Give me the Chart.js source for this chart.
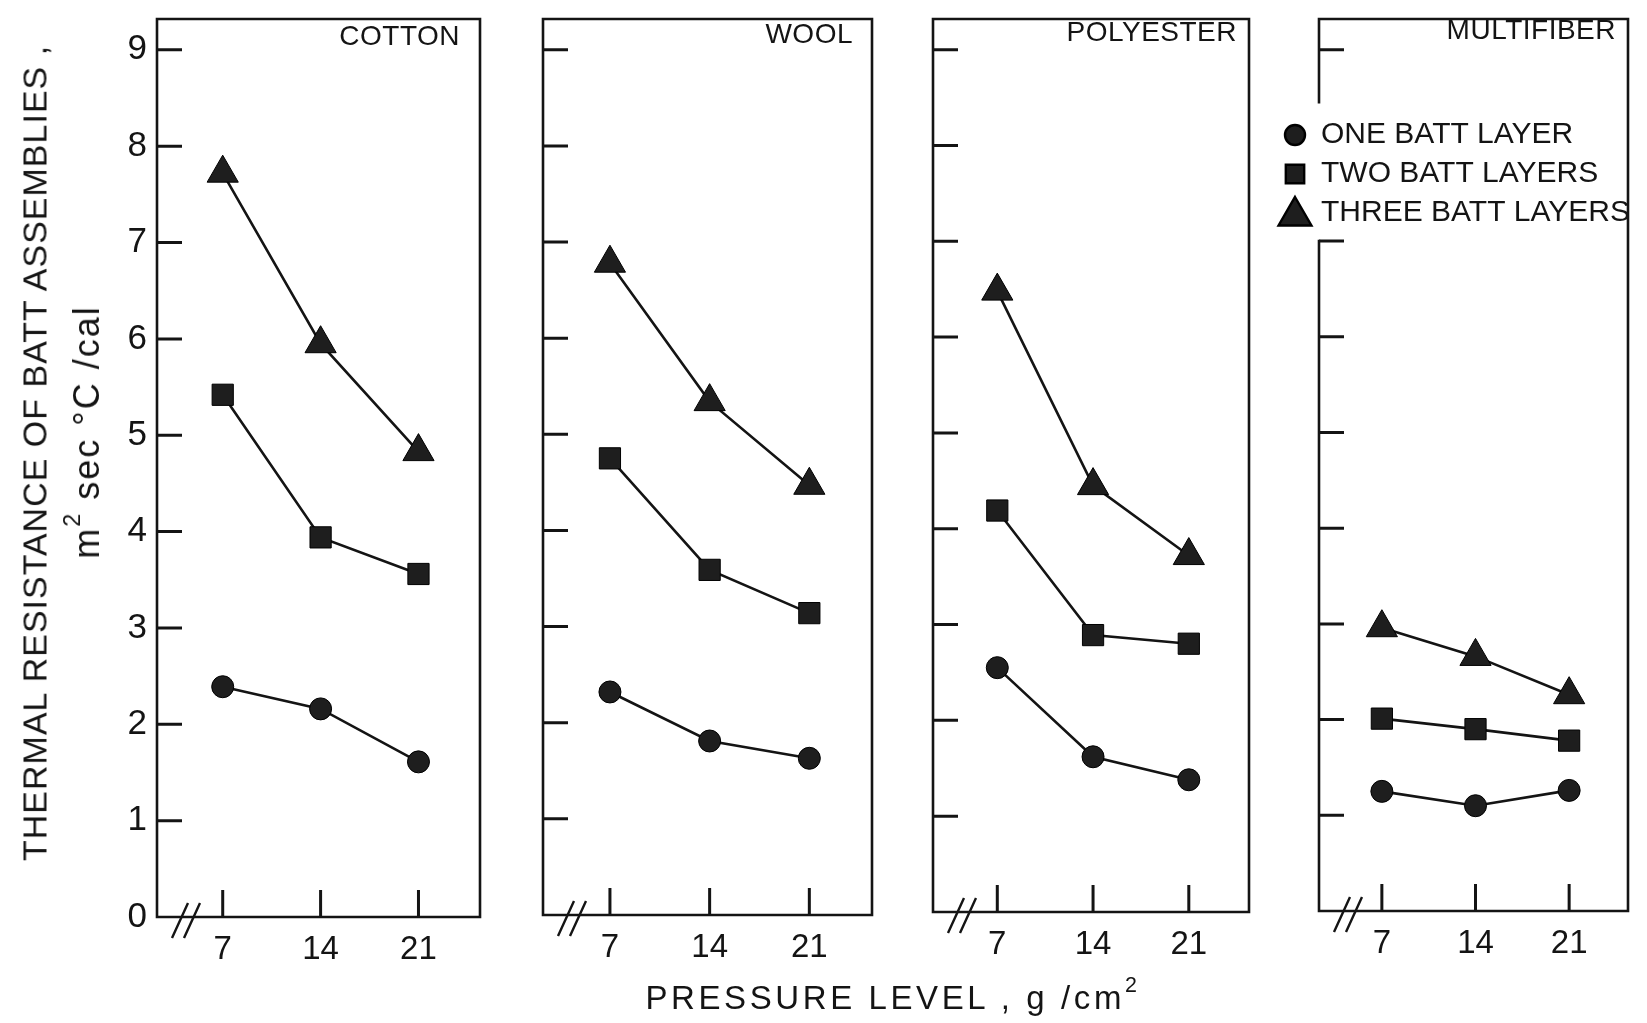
<!DOCTYPE html>
<html>
<head>
<meta charset="utf-8">
<script src="https://cdn.jsdelivr.net/npm/chart.js@4/dist/chart.umd.min.js"></script>
<style>
  body { margin: 0; background: #fff; width: 1647px; height: 1023px; overflow: hidden; position: relative;
         font-family: "Liberation Sans", Arial, sans-serif; color: #141414; }
  canvas { position: absolute; top: 0; }
  .lbl { position: absolute; white-space: nowrap; transform: translate(-50%, -50%); }
  .rot { transform: translate(-50%, -50%) rotate(-90deg); }
  sup { font-size: 0.65em; vertical-align: 0.8em; line-height: 0; }
</style>
</head>
<body>
<div class="lbl rot" style="left:35px;top:453px;font-size:34px;letter-spacing:1px">THERMAL RESISTANCE OF BATT ASSEMBLIES ,</div>
<div class="lbl rot" style="left:87px;top:432px;font-size:36px;letter-spacing:2px">m<sup>2</sup> sec °C /cal</div>
<div class="lbl" style="left:893px;top:998px;font-size:33px;letter-spacing:3.6px">PRESSURE LEVEL , g /cm<sup>2</sup></div>
<script>
// pressure levels (g/cm2) and y ticks
const pressure = [7, 14, 21];
const yTicks = [0, 1, 2, 3, 4, 5, 6, 7, 8, 9];
const fibers = ['COTTON', 'WOOL', 'POLYESTER', 'MULTIFIBER'];
const layerNames = ['ONE BATT LAYER', 'TWO BATT LAYERS', 'THREE BATT LAYERS'];

// thermal resistance, m2 sec C/cal
const cottonOne = [2.39, 2.16, 1.61];
const cottonTwo = [5.42, 3.94, 3.56];
const cottonThree = [7.72, 5.95, 4.83];
const woolOne = [2.32, 1.81, 1.63];
const woolTwo = [4.75, 3.59, 3.14];
const woolThree = [6.78, 5.34, 4.47];
const polyOne = [2.55, 1.62, 1.38];
const polyTwo = [4.19, 2.89, 2.80];
const polyThree = [6.48, 4.45, 3.72];
const multiOne = [1.25, 1.10, 1.26];
const multiTwo = [2.01, 1.90, 1.78];
const multiThree = [2.96, 2.66, 2.26];

const series = [
  [cottonOne, cottonTwo, cottonThree],
  [woolOne, woolTwo, woolThree],
  [polyOne, polyTwo, polyThree],
  [multiOne, multiTwo, multiThree]
];

const ink = '#141414';
const FONT = '"Liberation Sans", Arial, sans-serif';
Chart.defaults.font.family = FONT;
Chart.defaults.color = ink;

const xMin = 2.3, xMax = 25.4, yMax = 9.32;

// panel boxes on the page and the canvas strip each one lives in
const boxes = [
  { cx0: 0,    cx1: 505,  left: 157,  right: 480,  top: 13, bottom: 917, titleY: 37, inset: 20 },
  { cx0: 505,  cx1: 895,  left: 543,  right: 872,  top: 12, bottom: 915, titleY: 35, inset: 19 },
  { cx0: 895,  cx1: 1268, left: 933,  right: 1255, top: 10, bottom: 912, titleY: 33, inset: 12 },
  { cx0: 1268, cx1: 1647, left: 1319, right: 1642, top: 12, bottom: 911, titleY: 31, inset: 12 }
];

const marks = [
  { pointStyle: 'circle', pointRadius: 11 },
  { pointStyle: 'rect', pointRadius: 15 },
  { pointStyle: 'triangle', pointRadius: 18 }
];

const frame = {
  id: 'frame',
  afterDraw(chart, args, o) {
    const { ctx, chartArea: a, scales: { x, y } } = chart;
    ctx.save();
    ctx.strokeStyle = ink;
    ctx.lineWidth = 2.6;
    ctx.lineCap = 'square';
    ctx.beginPath();
    ctx.moveTo(a.left, a.bottom);
    ctx.lineTo(a.right, a.bottom);
    ctx.lineTo(a.right, a.top);
    ctx.lineTo(a.left, a.top);
    if (o.gap) {
      ctx.lineTo(a.left, y.getPixelForValue(o.gap[1]));
      ctx.moveTo(a.left, y.getPixelForValue(o.gap[0]));
    }
    ctx.lineTo(a.left, a.bottom);
    ctx.stroke();

    // inward ticks
    ctx.lineWidth = 3;
    ctx.lineCap = 'butt';
    ctx.beginPath();
    yTicks.forEach(v => {
      if (v === 0) return;
      if (o.gap && v > o.gap[0] && v < o.gap[1]) return;
      const py = y.getPixelForValue(v);
      ctx.moveTo(a.left, py);
      ctx.lineTo(a.left + 25, py);
    });
    pressure.forEach(v => {
      const px = x.getPixelForValue(v);
      ctx.moveTo(px, a.bottom);
      ctx.lineTo(px, a.bottom - 27);
    });
    ctx.stroke();

    // axis break
    ctx.lineWidth = 2.4;
    ctx.beginPath();
    [15, 27].forEach(d => {
      ctx.moveTo(a.left + d, a.bottom + 21);
      ctx.lineTo(a.left + d + 16, a.bottom - 14);
    });
    ctx.stroke();

    // panel name
    ctx.fillStyle = ink;
    ctx.font = '28px ' + FONT;
    ctx.letterSpacing = '0.5px';
    ctx.textAlign = 'right';
    ctx.textBaseline = 'middle';
    ctx.fillText(o.title, a.right - o.inset, o.titleY);

    // legend (multifiber panel only)
    if (o.legend) {
      ctx.font = '30px ' + FONT;
      ctx.letterSpacing = '0px';
      ctx.textAlign = 'left';
      chart.data.datasets.forEach((ds, k) => {
        const ly = o.legend.y[k];
        ctx.fillStyle = ds.pointBackgroundColor;
        ctx.strokeStyle = '#000';
        Chart.helpers.drawPoint(ctx, { pointStyle: ds.pointStyle, radius: [10, 13, 19][k], rotation: 0, borderWidth: 1 },
          o.legend.x, ly + (k === 2 ? 3 : 0));
        ctx.fillStyle = ink;
        ctx.fillText(ds.label, o.legend.x + 26, ly);
      });
    }
    ctx.restore();
  }
};

boxes.forEach((b, i) => {
  const cv = document.createElement('canvas');
  cv.width = b.cx1 - b.cx0;
  cv.height = 1023;
  cv.style.left = b.cx0 + 'px';
  document.body.insertBefore(cv, document.body.firstChild);
  const yW = i === 0 ? 70 : 0, xH = 60;

  new Chart(cv, {
    type: 'line',
    data: {
      datasets: series[i].map((vals, k) => ({
        label: layerNames[k],
        data: pressure.map((p, j) => ({ x: p, y: vals[j] })),
        borderColor: ink,
        borderWidth: 2.6,
        pointBackgroundColor: '#1e1e1e',
        pointBorderColor: '#000',
        pointBorderWidth: 1,
        tension: 0,
        ...marks[k]
      }))
    },
    options: {
      responsive: false,
      animation: false,
      events: [],
      layout: { padding: { left: b.left - b.cx0 - yW, right: b.cx1 - b.right, top: b.top, bottom: 1023 - b.bottom - xH } },
      plugins: {
        legend: { display: false },
        tooltip: { enabled: false },
        frame: {
          title: fibers[i],
          titleY: b.titleY,
          inset: b.inset,
          gap: i === 3 ? [7, 8.45] : null,
          legend: i === 3 ? { x: 1295 - b.cx0, y: [135, 174, 213] } : null
        }
      },
      scales: {
        x: {
          type: 'linear', min: xMin, max: xMax,
          grid: { display: false, drawTicks: false },
          border: { display: false },
          afterBuildTicks: s => { s.ticks = pressure.map(v => ({ value: v })); },
          afterFit: s => { s.height = xH; s.paddingLeft = 0; s.paddingRight = 0; },
          ticks: { font: { size: 33 }, color: ink, padding: 13, maxRotation: 0, autoSkip: false }
        },
        y: {
          min: 0, max: yMax,
          grid: { display: false, drawTicks: false },
          border: { display: false },
          afterBuildTicks: s => { s.ticks = yTicks.map(v => ({ value: v })); },
          afterFit: s => { s.width = yW; s.paddingTop = 0; s.paddingBottom = 0; },
          ticks: { display: i === 0, font: { size: 35 }, color: ink, padding: 10 }
        }
      }
    },
    plugins: [frame]
  });
});
</script>
</body>
</html>
